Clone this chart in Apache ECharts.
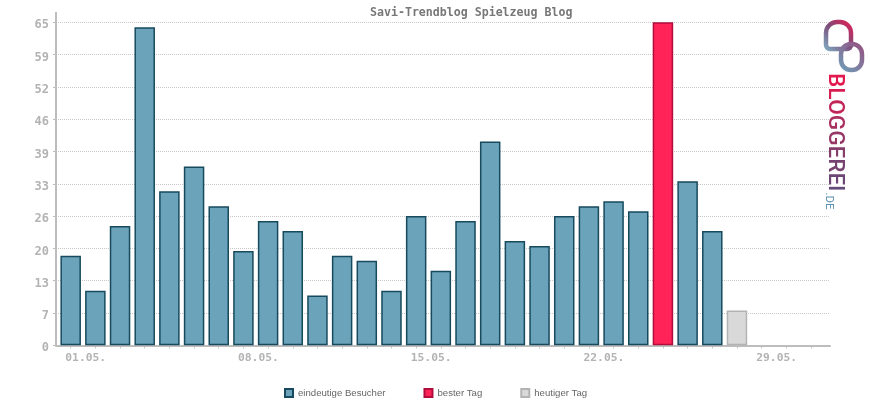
<!DOCTYPE html>
<html>
<head>
<meta charset="utf-8">
<script src="https://cdn.jsdelivr.net/npm/echarts@6/dist/echarts.min.js"></script>
<style>html,body{margin:0;padding:0;background:#fff}#c{width:870px;height:400px}</style>
</head>
<body>
<div id="c"></div>
<script>
// ---- data ----
const days = ['01.05.','02.05.','03.05.','04.05.','05.05.','06.05.','07.05.','08.05.','09.05.','10.05.',
  '11.05.','12.05.','13.05.','14.05.','15.05.','16.05.','17.05.','18.05.','19.05.','20.05.',
  '21.05.','22.05.','23.05.','24.05.','25.05.','26.05.','27.05.','28.05.','29.05.','30.05.','31.05.'];
const visitors = [18,11,24,64,31,36,28,19,25,23,10,18,17,11,26,15,25,41,21,20,26,28,29,27,65,33,23,7,0,0,0];
const bestDay = '25.05.';
const today = '28.05.';
const labelDays = ['01.05.','08.05.','15.05.','22.05.','29.05.'];
const yLabels = ['0','7','13','20','26','33','39','46','52','59','65'];
const seriesNames = ['eindeutige Besucher','bester Tag','heutiger Tag'];

const todayIdx = days.indexOf(today);
const bestIdx = days.indexOf(bestDay);
const normalData = [], bestData = [], todayData = [];
days.forEach((d, i) => {
  if (i > todayIdx) return;
  const pt = [i + 1, visitors[i]];
  if (i === bestIdx) bestData.push(pt);
  else if (i === todayIdx) todayData.push(pt);
  else normalData.push(pt);
});

const chart = echarts.init(document.getElementById('c'), null, {renderer: 'canvas'});
const axisGray = '#bdbdbd';
const labelGray = '#b3b3b3';
const mono = '"DejaVu Sans Mono", monospace';

const barCommon = {type: 'bar', barWidth: 20.5, barGap: '-100%'};

// logo lettering, one letter at a time so each gets its own colour
const logoFont = '500 22.5px Roboto';
const logoLetters = 'BLOGGEREI'.split('');
const logoColors = ['#e2184f','#d81d52','#c22658','#a9305f','#963767','#853d6c','#784270','#6c4775','#634c7a'];
const mctx = document.createElement('canvas').getContext('2d');
mctx.font = logoFont;
const logoGraphics = [];
let ly = 73;
logoLetters.forEach((ch, i) => {
  logoGraphics.push({type: 'text', x: 823, y: ly, rotation: -Math.PI / 2, silent: true,
    style: {text: ch, font: logoFont, textAlign: 'left', textVerticalAlign: 'bottom', fill: logoColors[i]}});
  ly += mctx.measureText(ch).width;
});
logoGraphics.push({type: 'text', x: 823, y: ly + 1, rotation: -Math.PI / 2, silent: true,
  style: {text: '.DE', font: '400 11.5px Roboto', textAlign: 'left', textVerticalAlign: 'bottom', fill: '#5a8fb3'}});

chart.setOption({
  animation: false,
  title: {
    text: 'Savi-Trendblog Spielzeug Blog',
    left: 365, top: 2,
    textStyle: {fontFamily: mono, fontSize: 11.6, fontWeight: 'bold', color: '#777'}
  },
  legend: {
    data: seriesNames,
    left: 279, top: 383,
    itemWidth: 8, itemHeight: 8, itemGap: 38,
    icon: 'rect',
    textStyle: {fontFamily: '"Liberation Sans", Arial, sans-serif', fontSize: 9.6, color: '#666'}
  },
  grid: {left: 56, right: 40, top: 22.3, bottom: 54.7, containLabel: false},
  xAxis: {
    type: 'value',
    min: 0.405, max: 31.77,
    splitLine: {show: false},
    axisLine: {show: true, lineStyle: {color: axisGray, width: 2}},
    axisTick: {show: true, length: 3, lineStyle: {color: axisGray}, customValues: days.map((d, i) => i + 1)},
    axisLabel: {
      customValues: labelDays.map(d => days.indexOf(d) + 1),
      formatter: v => days[Math.round(v) - 1],
      margin: 7,
      color: labelGray, fontFamily: mono, fontSize: 11.3, fontWeight: 'bold',
      padding: [0, 0, 0, 30]
    }
  },
  yAxis: {
    type: 'value', min: 0, max: 65, interval: 6.5,
    axisLine: {show: true, lineStyle: {color: axisGray, width: 2}},
    axisTick: {show: true, length: 3, lineStyle: {color: axisGray}},
    splitLine: {show: true, lineStyle: {color: '#c8c8c8', type: [1, 1], width: 1}},
    axisLabel: {
      formatter: v => yLabels[Math.round(v / 6.5)],
      margin: 7, verticalAlign: 'top', lineHeight: 6,
      color: labelGray, fontFamily: mono, fontSize: 12, fontWeight: 'bold'
    }
  },
  series: [
    Object.assign({}, barCommon, {
      name: seriesNames[0], data: normalData,
      itemStyle: {color: '#6ba3bb', borderColor: '#174a5d', borderWidth: 1.5}
    }),
    Object.assign({}, barCommon, {
      name: seriesNames[1], data: bestData,
      itemStyle: {color: '#ff2358', borderColor: '#b00c3c', borderWidth: 1.5}
    }),
    Object.assign({}, barCommon, {
      name: seriesNames[2], data: todayData,
      itemStyle: {color: '#d9d9d9', borderColor: '#b3b3b3', borderWidth: 1.5}
    })
  ],
  graphic: [
    {type: 'line', shape: {x1: 56, y1: 12, x2: 56, y2: 23}, style: {stroke: axisGray, lineWidth: 2}, silent: true},
    {type: 'rect', shape: {x: 826, y: 22, width: 25, height: 27, r: [11, 11, 4, 4]}, silent: true,
      style: {fill: 'none', lineWidth: 4.5,
        stroke: new echarts.graphic.LinearGradient(1, 0, 0, 1, [
          {offset: 0, color: '#f0174f'}, {offset: 0.5, color: '#7c4d7a'}, {offset: 1, color: '#7fb6c9'}])}},
    {type: 'rect', shape: {x: 841, y: 44, width: 21, height: 26, r: 10}, silent: true,
      style: {fill: 'none', lineWidth: 4.5,
        stroke: new echarts.graphic.LinearGradient(1, 0, 0, 1, [
          {offset: 0, color: '#9a4a7c'}, {offset: 1, color: '#6aa3bb'}])}}
  ].concat(logoGraphics)
});
</script>
</body>
</html>
